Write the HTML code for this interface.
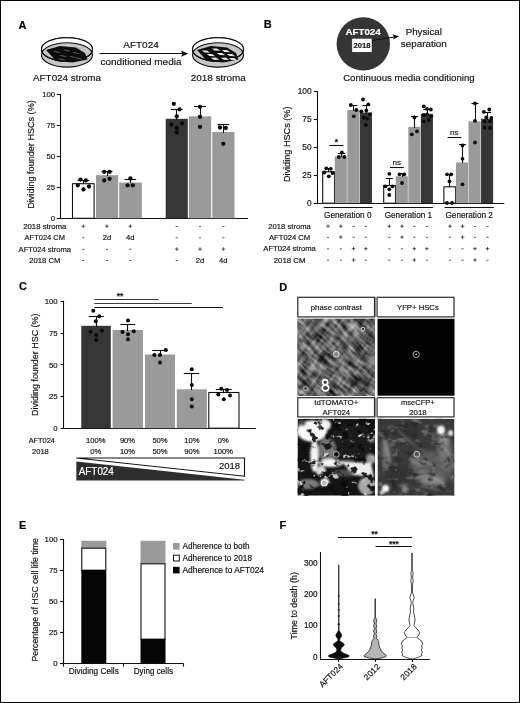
<!DOCTYPE html>
<html lang="en"><head><meta charset="utf-8"><title>Figure</title>
<style>
html,body{margin:0;padding:0;background:#fff;}
body{width:520px;height:703px;overflow:hidden;position:relative;}
.frame{position:absolute;left:0;top:0;width:520px;height:703px;box-sizing:border-box;border:1px solid #000;pointer-events:none;}
svg{position:absolute;left:0;top:0;display:block;font-family:'Liberation Sans', Arial, sans-serif;}
svg text{font-family:'Liberation Sans', Arial, sans-serif;stroke:#222;stroke-width:0.18px;paint-order:stroke;}
svg text[fill="#fff"]{stroke:#fff;}
</style></head><body>
<svg width="520" height="703" viewBox="0 0 520 703">
<text x="18.6" y="28.5" font-size="11" font-weight="bold" fill="#000">A</text>
<ellipse cx="67" cy="54.9" rx="25.5" ry="12.2" fill="#c6c6c6" stroke="#111" stroke-width="1.1"/>
<path d="M41.5,49.6 A25.5,11.6 0 0 0 92.5,49.6" fill="none" stroke="#111" stroke-width="1"/>
<ellipse cx="67" cy="49.4" rx="25.5" ry="11.8" fill="none" stroke="#111" stroke-width="1.1"/>
<path d="M41.5,49.4 A25.5,11.8 0 0 1 92.5,49.4 L91,49.4 A24,10 0 0 0 43,49.4Z" fill="#fff"/>
<ellipse cx="67" cy="49.4" rx="25.5" ry="11.8" fill="none" stroke="#111" stroke-width="1.1"/>
<polygon points="46.0,50.0 60.0,46.0 76.0,47.5 85.0,53.0 87.5,59.5 72.5,62.5 56.0,61.0" fill="#0d0d0d"/>
<ellipse cx="57" cy="52" rx="3.4" ry="0.45" fill="#666" transform="rotate(12 57 52)"/>
<ellipse cx="67" cy="50.5" rx="3.4" ry="0.45" fill="#666" transform="rotate(12 67 50.5)"/>
<ellipse cx="76" cy="53" rx="3.4" ry="0.45" fill="#666" transform="rotate(12 76 53)"/>
<ellipse cx="63" cy="56" rx="3.4" ry="0.45" fill="#666" transform="rotate(12 63 56)"/>
<ellipse cx="73" cy="57" rx="3.4" ry="0.45" fill="#666" transform="rotate(12 73 57)"/>
<ellipse cx="79" cy="58.5" rx="3.4" ry="0.45" fill="#666" transform="rotate(12 79 58.5)"/>
<ellipse cx="62" cy="59.5" rx="3.4" ry="0.45" fill="#666" transform="rotate(12 62 59.5)"/>
<ellipse cx="218" cy="54.9" rx="25.5" ry="12.2" fill="#c6c6c6" stroke="#111" stroke-width="1.1"/>
<path d="M192.5,49.6 A25.5,11.6 0 0 0 243.5,49.6" fill="none" stroke="#111" stroke-width="1"/>
<ellipse cx="218" cy="49.4" rx="25.5" ry="11.8" fill="none" stroke="#111" stroke-width="1.1"/>
<path d="M192.5,49.4 A25.5,11.8 0 0 1 243.5,49.4 L242,49.4 A24,10 0 0 0 194,49.4Z" fill="#fff"/>
<ellipse cx="218" cy="49.4" rx="25.5" ry="11.8" fill="none" stroke="#111" stroke-width="1.1"/>
<polygon points="197.0,50.0 211.0,46.0 227.0,47.5 236.0,53.0 238.5,59.5 223.5,62.5 207.0,61.0" fill="#0d0d0d"/>
<path d="M201.8,50.5 L207,50.4 L210.2,52.7 L204.5,52.5Z" fill="#e6e6e6"/>
<path d="M211.8,48.5 L217,48.4 L220.2,50.7 L214.5,50.5Z" fill="#e6e6e6"/>
<path d="M221.8,50.0 L227,49.9 L230.2,52.2 L224.5,52.0Z" fill="#e6e6e6"/>
<path d="M206.8,54.0 L212,53.9 L215.2,56.2 L209.5,56.0Z" fill="#e6e6e6"/>
<path d="M216.8,53.0 L222,52.9 L225.2,55.2 L219.5,55.0Z" fill="#e6e6e6"/>
<path d="M226.8,54.0 L232,53.9 L235.2,56.2 L229.5,56.0Z" fill="#e6e6e6"/>
<path d="M210.8,57.7 L216,57.6 L219.2,59.900000000000006 L213.5,59.7Z" fill="#e6e6e6"/>
<path d="M220.8,57.7 L226,57.6 L229.2,59.900000000000006 L223.5,59.7Z" fill="#e6e6e6"/>
<path d="M228.8,58.0 L234,57.9 L237.2,60.2 L231.5,60.0Z" fill="#e6e6e6"/>
<text x="67" y="80.6" font-size="9.7" text-anchor="middle" fill="#111" textLength="68" lengthAdjust="spacingAndGlyphs">AFT024 stroma</text>
<text x="218.2" y="80.6" font-size="9.7" text-anchor="middle" fill="#111" textLength="55" lengthAdjust="spacingAndGlyphs">2018 stroma</text>
<text x="141" y="47.6" font-size="9.7" text-anchor="middle" fill="#111" textLength="35.5" lengthAdjust="spacingAndGlyphs">AFT024</text>
<text x="141" y="64.6" font-size="9.7" text-anchor="middle" fill="#111" textLength="81" lengthAdjust="spacingAndGlyphs">conditioned media</text>
<line x1="99.5" y1="53.5" x2="183" y2="53.5" stroke="#111" stroke-width="1.1"/>
<polygon points="188.5,53.7 180.8,50.6 182.6,53.7 180.8,56.8" fill="#111"/>
<line x1="60.5" y1="94" x2="60.5" y2="218.8" stroke="#111" stroke-width="1.1"/>
<line x1="56.8" y1="218.5" x2="248" y2="218.5" stroke="#111" stroke-width="1.1"/>
<line x1="56.8" y1="94.5" x2="60" y2="94.5" stroke="#111" stroke-width="1.1"/>
<text x="55.2" y="97.3" font-size="7.8" text-anchor="end" fill="#111">100</text>
<line x1="56.8" y1="125.5" x2="60" y2="125.5" stroke="#111" stroke-width="1.1"/>
<text x="55.2" y="128.3" font-size="7.8" text-anchor="end" fill="#111">75</text>
<line x1="56.8" y1="156.5" x2="60" y2="156.5" stroke="#111" stroke-width="1.1"/>
<text x="55.2" y="159.3" font-size="7.8" text-anchor="end" fill="#111">50</text>
<line x1="56.8" y1="187.5" x2="60" y2="187.5" stroke="#111" stroke-width="1.1"/>
<text x="55.2" y="190.3" font-size="7.8" text-anchor="end" fill="#111">25</text>
<text x="55.2" y="221.10000000000002" font-size="7.8" text-anchor="end" fill="#111">0</text>
<text transform="translate(34.4,154.5) rotate(-90)" font-size="9.4" text-anchor="middle" fill="#111" textLength="108.5" lengthAdjust="spacingAndGlyphs">Dividing founder HSCs (%)</text>
<rect x="72.50" y="183.70" width="21.60" height="34.60" fill="#fff" stroke="#111" stroke-width="1.1"/>
<rect x="96.00" y="175.20" width="22.20" height="43.10" fill="#9a9a9a"/>
<rect x="119.20" y="182.50" width="22.60" height="35.80" fill="#9a9a9a"/>
<rect x="165.70" y="118.80" width="22.10" height="99.50" fill="#363636"/>
<rect x="188.90" y="116.30" width="22.30" height="102.00" fill="#9a9a9a"/>
<rect x="212.30" y="132.00" width="22.20" height="86.30" fill="#9a9a9a"/>
<line x1="83.5" y1="180.3" x2="83.5" y2="183.5" stroke="#111" stroke-width="1.1"/>
<line x1="77.60000000000001" y1="180.5" x2="89.2" y2="180.5" stroke="#111" stroke-width="1.1"/>
<line x1="107.5" y1="171.9" x2="107.5" y2="176" stroke="#111" stroke-width="1.1"/>
<line x1="101.5" y1="171.5" x2="112.5" y2="171.5" stroke="#111" stroke-width="1.1"/>
<line x1="130.5" y1="179.3" x2="130.5" y2="183" stroke="#111" stroke-width="1.1"/>
<line x1="124.7" y1="179.5" x2="136.1" y2="179.5" stroke="#111" stroke-width="1.1"/>
<line x1="176.5" y1="109.3" x2="176.5" y2="120" stroke="#111" stroke-width="1.1"/>
<line x1="170.7" y1="109.5" x2="182.7" y2="109.5" stroke="#111" stroke-width="1.1"/>
<line x1="200.5" y1="106.8" x2="200.5" y2="117" stroke="#111" stroke-width="1.1"/>
<line x1="194" y1="106.5" x2="206" y2="106.5" stroke="#111" stroke-width="1.1"/>
<line x1="223.5" y1="124" x2="223.5" y2="133" stroke="#111" stroke-width="1.1"/>
<line x1="217.5" y1="124.5" x2="229.10000000000002" y2="124.5" stroke="#111" stroke-width="1.1"/>
<circle cx="80.5" cy="179.6" r="2.15" fill="#0a0a0a"/>
<circle cx="85.9" cy="180.4" r="2.15" fill="#0a0a0a"/>
<circle cx="77.8" cy="185.3" r="2.15" fill="#0a0a0a"/>
<circle cx="89" cy="186.5" r="2.15" fill="#0a0a0a"/>
<circle cx="83.5" cy="189.4" r="2.15" fill="#0a0a0a"/>
<circle cx="104.2" cy="171.8" r="2.15" fill="#0a0a0a"/>
<circle cx="109.6" cy="171.8" r="2.15" fill="#0a0a0a"/>
<circle cx="104.2" cy="180.4" r="2.15" fill="#0a0a0a"/>
<circle cx="109.6" cy="178.8" r="2.15" fill="#0a0a0a"/>
<circle cx="130.4" cy="178.5" r="2.15" fill="#0a0a0a"/>
<circle cx="127.6" cy="185.3" r="2.15" fill="#0a0a0a"/>
<circle cx="132.8" cy="185.3" r="2.15" fill="#0a0a0a"/>
<circle cx="173.8" cy="103.8" r="2.15" fill="#0a0a0a"/>
<circle cx="179.5" cy="109.3" r="2.15" fill="#0a0a0a"/>
<circle cx="176.8" cy="116.3" r="2.15" fill="#0a0a0a"/>
<circle cx="171.3" cy="124.5" r="2.15" fill="#0a0a0a"/>
<circle cx="182" cy="123.3" r="2.15" fill="#0a0a0a"/>
<circle cx="176.8" cy="128" r="2.15" fill="#0a0a0a"/>
<circle cx="176.8" cy="132.5" r="2.15" fill="#0a0a0a"/>
<circle cx="200" cy="106.8" r="2.15" fill="#0a0a0a"/>
<circle cx="200" cy="116.8" r="2.15" fill="#0a0a0a"/>
<circle cx="200" cy="126.8" r="2.15" fill="#0a0a0a"/>
<circle cx="220" cy="127.5" r="2.15" fill="#0a0a0a"/>
<circle cx="225.8" cy="128" r="2.15" fill="#0a0a0a"/>
<circle cx="223.3" cy="143.8" r="2.15" fill="#0a0a0a"/>
<text x="44.8" y="228.8" font-size="7.6" text-anchor="middle" fill="#111" textLength="43.2" lengthAdjust="spacingAndGlyphs">2018 stroma</text>
<line x1="81.5" y1="226.20000000000002" x2="85.1" y2="226.20000000000002" stroke="#222" stroke-width="0.75"/>
<line x1="83.3" y1="224.4" x2="83.3" y2="228.0" stroke="#222" stroke-width="0.75"/>
<line x1="105.10000000000001" y1="226.20000000000002" x2="108.7" y2="226.20000000000002" stroke="#222" stroke-width="0.75"/>
<line x1="106.9" y1="224.4" x2="106.9" y2="228.0" stroke="#222" stroke-width="0.75"/>
<line x1="128.5" y1="226.20000000000002" x2="132.10000000000002" y2="226.20000000000002" stroke="#222" stroke-width="0.75"/>
<line x1="130.3" y1="224.4" x2="130.3" y2="228.0" stroke="#222" stroke-width="0.75"/>
<line x1="175.70000000000002" y1="226.4" x2="177.9" y2="226.4" stroke="#333" stroke-width="0.8"/>
<line x1="198.9" y1="226.4" x2="201.1" y2="226.4" stroke="#333" stroke-width="0.8"/>
<line x1="222.20000000000002" y1="226.4" x2="224.4" y2="226.4" stroke="#333" stroke-width="0.8"/>
<text x="44.8" y="240.2" font-size="7.6" text-anchor="middle" fill="#111" textLength="40.4" lengthAdjust="spacingAndGlyphs">AFT024 CM</text>
<line x1="82.2" y1="237.79999999999998" x2="84.39999999999999" y2="237.79999999999998" stroke="#333" stroke-width="0.8"/>
<text x="106.9" y="240.2" font-size="7.6" text-anchor="middle" fill="#111">2d</text>
<text x="130.3" y="240.2" font-size="7.6" text-anchor="middle" fill="#111">4d</text>
<line x1="175.70000000000002" y1="237.79999999999998" x2="177.9" y2="237.79999999999998" stroke="#333" stroke-width="0.8"/>
<line x1="198.9" y1="237.79999999999998" x2="201.1" y2="237.79999999999998" stroke="#333" stroke-width="0.8"/>
<line x1="222.20000000000002" y1="237.79999999999998" x2="224.4" y2="237.79999999999998" stroke="#333" stroke-width="0.8"/>
<text x="44.8" y="251.7" font-size="7.6" text-anchor="middle" fill="#111" textLength="52.5" lengthAdjust="spacingAndGlyphs">AFT024 stroma</text>
<line x1="82.2" y1="249.29999999999998" x2="84.39999999999999" y2="249.29999999999998" stroke="#333" stroke-width="0.8"/>
<line x1="105.80000000000001" y1="249.29999999999998" x2="108.0" y2="249.29999999999998" stroke="#333" stroke-width="0.8"/>
<line x1="129.20000000000002" y1="249.29999999999998" x2="131.4" y2="249.29999999999998" stroke="#333" stroke-width="0.8"/>
<line x1="175.0" y1="249.1" x2="178.60000000000002" y2="249.1" stroke="#222" stroke-width="0.75"/>
<line x1="176.8" y1="247.29999999999998" x2="176.8" y2="250.89999999999998" stroke="#222" stroke-width="0.75"/>
<line x1="198.2" y1="249.1" x2="201.8" y2="249.1" stroke="#222" stroke-width="0.75"/>
<line x1="200" y1="247.29999999999998" x2="200" y2="250.89999999999998" stroke="#222" stroke-width="0.75"/>
<line x1="221.5" y1="249.1" x2="225.10000000000002" y2="249.1" stroke="#222" stroke-width="0.75"/>
<line x1="223.3" y1="247.29999999999998" x2="223.3" y2="250.89999999999998" stroke="#222" stroke-width="0.75"/>
<text x="44.8" y="262.9" font-size="7.6" text-anchor="middle" fill="#111" textLength="31.2" lengthAdjust="spacingAndGlyphs">2018 CM</text>
<line x1="82.2" y1="260.5" x2="84.39999999999999" y2="260.5" stroke="#333" stroke-width="0.8"/>
<line x1="105.80000000000001" y1="260.5" x2="108.0" y2="260.5" stroke="#333" stroke-width="0.8"/>
<line x1="129.20000000000002" y1="260.5" x2="131.4" y2="260.5" stroke="#333" stroke-width="0.8"/>
<line x1="175.70000000000002" y1="260.5" x2="177.9" y2="260.5" stroke="#333" stroke-width="0.8"/>
<text x="200" y="262.9" font-size="7.6" text-anchor="middle" fill="#111">2d</text>
<text x="223.3" y="262.9" font-size="7.6" text-anchor="middle" fill="#111">4d</text>
<text x="263.8" y="28.3" font-size="11" font-weight="bold" fill="#000">B</text>
<circle cx="363.3" cy="43.9" r="26.7" fill="#353535"/>
<text x="363.1" y="35.1" font-size="9.5" text-anchor="middle" font-weight="bold" fill="#fff" textLength="35.3" lengthAdjust="spacingAndGlyphs">AFT024</text>
<rect x="351.90" y="38.30" width="20.10" height="13.90" fill="#fff" stroke="#222" stroke-width="0.5"/>
<text x="362.1" y="48.4" font-size="7.9" text-anchor="middle" font-weight="bold" fill="#111" textLength="17" lengthAdjust="spacingAndGlyphs">2018</text>
<line x1="372" y1="40.4" x2="394.5" y2="37" stroke="#111" stroke-width="1.1"/>
<polygon points="399.3,36.3 392.4,34.6 394,37.1 393.1,39.6" fill="#111"/>
<text x="423.8" y="35" font-size="9.7" text-anchor="middle" fill="#111" textLength="36.3" lengthAdjust="spacingAndGlyphs">Physical</text>
<text x="423.8" y="47" font-size="9.7" text-anchor="middle" fill="#111" textLength="46" lengthAdjust="spacingAndGlyphs">separation</text>
<text x="408.9" y="81" font-size="9.6" text-anchor="middle" fill="#111" textLength="131.5" lengthAdjust="spacingAndGlyphs">Continuous media conditioning</text>
<line x1="317.5" y1="91" x2="317.5" y2="203.7" stroke="#111" stroke-width="1.1"/>
<line x1="313.8" y1="203.5" x2="504.3" y2="203.5" stroke="#111" stroke-width="1.1"/>
<line x1="313.8" y1="91.5" x2="317" y2="91.5" stroke="#111" stroke-width="1.1"/>
<text x="311.5" y="94.3" font-size="8.3" text-anchor="end" fill="#111">100</text>
<line x1="313.8" y1="119.5" x2="317" y2="119.5" stroke="#111" stroke-width="1.1"/>
<text x="311.5" y="122.3" font-size="8.3" text-anchor="end" fill="#111">75</text>
<line x1="313.8" y1="147.5" x2="317" y2="147.5" stroke="#111" stroke-width="1.1"/>
<text x="311.5" y="150.2" font-size="8.3" text-anchor="end" fill="#111">50</text>
<line x1="313.8" y1="175.5" x2="317" y2="175.5" stroke="#111" stroke-width="1.1"/>
<text x="311.5" y="178.2" font-size="8.3" text-anchor="end" fill="#111">25</text>
<text x="311.5" y="206.2" font-size="8.3" text-anchor="end" fill="#111">0</text>
<text transform="translate(290.2,144.3) rotate(-90)" font-size="9.6" text-anchor="middle" fill="#111" textLength="75.6" lengthAdjust="spacingAndGlyphs">Dividing HSCs (%)</text>
<rect x="322.70" y="171.80" width="11.80" height="31.40" fill="#fff" stroke="#111" stroke-width="1.1"/>
<rect x="334.75" y="156.30" width="12.10" height="46.90" fill="#9a9a9a"/>
<rect x="347.30" y="110.00" width="12.10" height="93.20" fill="#9a9a9a"/>
<rect x="359.85" y="112.50" width="12.10" height="90.70" fill="#363636"/>
<rect x="383.70" y="185.50" width="11.80" height="17.70" fill="#fff" stroke="#111" stroke-width="1.1"/>
<rect x="395.75" y="176.30" width="12.10" height="26.90" fill="#9a9a9a"/>
<rect x="408.30" y="126.80" width="12.10" height="76.40" fill="#9a9a9a"/>
<rect x="420.85" y="113.80" width="12.10" height="89.40" fill="#363636"/>
<rect x="443.90" y="186.80" width="11.80" height="16.40" fill="#fff" stroke="#111" stroke-width="1.1"/>
<rect x="455.95" y="162.50" width="12.10" height="40.70" fill="#9a9a9a"/>
<rect x="468.50" y="121.30" width="12.10" height="81.90" fill="#9a9a9a"/>
<rect x="481.05" y="118.80" width="12.10" height="84.40" fill="#363636"/>
<line x1="328.5" y1="168" x2="328.5" y2="172" stroke="#111" stroke-width="1.1"/>
<line x1="324.9" y1="168.5" x2="332.1" y2="168.5" stroke="#111" stroke-width="1.1"/>
<line x1="341.5" y1="153.8" x2="341.5" y2="157" stroke="#111" stroke-width="1.1"/>
<line x1="337.9" y1="153.5" x2="345.1" y2="153.5" stroke="#111" stroke-width="1.1"/>
<line x1="353.5" y1="105" x2="353.5" y2="111" stroke="#111" stroke-width="1.1"/>
<line x1="350.2" y1="105.5" x2="357.40000000000003" y2="105.5" stroke="#111" stroke-width="1.1"/>
<line x1="366.5" y1="105" x2="366.5" y2="113.5" stroke="#111" stroke-width="1.1"/>
<line x1="362.4" y1="105.5" x2="369.6" y2="105.5" stroke="#111" stroke-width="1.1"/>
<line x1="389.5" y1="178" x2="389.5" y2="186" stroke="#111" stroke-width="1.1"/>
<line x1="385.7" y1="178.5" x2="392.90000000000003" y2="178.5" stroke="#111" stroke-width="1.1"/>
<line x1="402.5" y1="173" x2="402.5" y2="177" stroke="#111" stroke-width="1.1"/>
<line x1="398.4" y1="173.5" x2="405.6" y2="173.5" stroke="#111" stroke-width="1.1"/>
<line x1="414.5" y1="116.8" x2="414.5" y2="128" stroke="#111" stroke-width="1.1"/>
<line x1="410.9" y1="116.5" x2="418.1" y2="116.5" stroke="#111" stroke-width="1.1"/>
<line x1="427.5" y1="109.5" x2="427.5" y2="115" stroke="#111" stroke-width="1.1"/>
<line x1="423.4" y1="109.5" x2="430.6" y2="109.5" stroke="#111" stroke-width="1.1"/>
<line x1="449.5" y1="174.5" x2="449.5" y2="187" stroke="#111" stroke-width="1.1"/>
<line x1="445.9" y1="174.5" x2="453.1" y2="174.5" stroke="#111" stroke-width="1.1"/>
<line x1="462.5" y1="144.3" x2="462.5" y2="163" stroke="#111" stroke-width="1.1"/>
<line x1="458.9" y1="144.5" x2="466.1" y2="144.5" stroke="#111" stroke-width="1.1"/>
<line x1="475.5" y1="103" x2="475.5" y2="122" stroke="#111" stroke-width="1.1"/>
<line x1="471.4" y1="103.5" x2="478.6" y2="103.5" stroke="#111" stroke-width="1.1"/>
<line x1="487.5" y1="112.5" x2="487.5" y2="120" stroke="#111" stroke-width="1.1"/>
<line x1="483.9" y1="112.5" x2="491.1" y2="112.5" stroke="#111" stroke-width="1.1"/>
<circle cx="326.3" cy="168.3" r="1.9" fill="#0a0a0a"/>
<circle cx="330.8" cy="168.8" r="1.9" fill="#0a0a0a"/>
<circle cx="324.3" cy="172.5" r="1.9" fill="#0a0a0a"/>
<circle cx="328.8" cy="176.3" r="1.9" fill="#0a0a0a"/>
<circle cx="332.5" cy="173" r="1.9" fill="#0a0a0a"/>
<circle cx="341.8" cy="152.5" r="1.9" fill="#0a0a0a"/>
<circle cx="338.8" cy="157" r="1.9" fill="#0a0a0a"/>
<circle cx="344.3" cy="157" r="1.9" fill="#0a0a0a"/>
<circle cx="350.8" cy="105" r="1.9" fill="#0a0a0a"/>
<circle cx="356.3" cy="110" r="1.9" fill="#0a0a0a"/>
<circle cx="353.8" cy="116.3" r="1.9" fill="#0a0a0a"/>
<circle cx="363" cy="99.5" r="1.9" fill="#0a0a0a"/>
<circle cx="368.3" cy="104.3" r="1.9" fill="#0a0a0a"/>
<circle cx="361.3" cy="111.3" r="1.9" fill="#0a0a0a"/>
<circle cx="366.3" cy="110.5" r="1.9" fill="#0a0a0a"/>
<circle cx="370" cy="114.3" r="1.9" fill="#0a0a0a"/>
<circle cx="363.8" cy="117.5" r="1.9" fill="#0a0a0a"/>
<circle cx="367.5" cy="118.8" r="1.9" fill="#0a0a0a"/>
<circle cx="365.8" cy="125" r="1.9" fill="#0a0a0a"/>
<circle cx="389.3" cy="173.8" r="1.9" fill="#0a0a0a"/>
<circle cx="385.5" cy="186.3" r="1.9" fill="#0a0a0a"/>
<circle cx="392.5" cy="186.3" r="1.9" fill="#0a0a0a"/>
<circle cx="389.3" cy="189.3" r="1.9" fill="#0a0a0a"/>
<circle cx="389.3" cy="195" r="1.9" fill="#0a0a0a"/>
<circle cx="399.5" cy="174.3" r="1.9" fill="#0a0a0a"/>
<circle cx="404.3" cy="174.3" r="1.9" fill="#0a0a0a"/>
<circle cx="402" cy="183" r="1.9" fill="#0a0a0a"/>
<circle cx="411.8" cy="134.3" r="1.9" fill="#0a0a0a"/>
<circle cx="417" cy="131.3" r="1.9" fill="#0a0a0a"/>
<circle cx="414.5" cy="117.5" r="1.9" fill="#0a0a0a"/>
<circle cx="423.8" cy="106.3" r="1.9" fill="#0a0a0a"/>
<circle cx="427" cy="108.8" r="1.9" fill="#0a0a0a"/>
<circle cx="430.8" cy="109.5" r="1.9" fill="#0a0a0a"/>
<circle cx="423.8" cy="115" r="1.9" fill="#0a0a0a"/>
<circle cx="427" cy="114.5" r="1.9" fill="#0a0a0a"/>
<circle cx="431.3" cy="116.3" r="1.9" fill="#0a0a0a"/>
<circle cx="423.8" cy="121.3" r="1.9" fill="#0a0a0a"/>
<circle cx="428.8" cy="120" r="1.9" fill="#0a0a0a"/>
<circle cx="447" cy="174.3" r="1.9" fill="#0a0a0a"/>
<circle cx="451.3" cy="174.3" r="1.9" fill="#0a0a0a"/>
<circle cx="449.5" cy="181.3" r="1.9" fill="#0a0a0a"/>
<circle cx="447" cy="203" r="1.9" fill="#0a0a0a"/>
<circle cx="452" cy="203" r="1.9" fill="#0a0a0a"/>
<circle cx="462.5" cy="145.5" r="1.9" fill="#0a0a0a"/>
<circle cx="462.5" cy="158.8" r="1.9" fill="#0a0a0a"/>
<circle cx="462.5" cy="184.3" r="1.9" fill="#0a0a0a"/>
<circle cx="475" cy="103.3" r="1.9" fill="#0a0a0a"/>
<circle cx="475" cy="120.8" r="1.9" fill="#0a0a0a"/>
<circle cx="475" cy="142.5" r="1.9" fill="#0a0a0a"/>
<circle cx="483.8" cy="111.8" r="1.9" fill="#0a0a0a"/>
<circle cx="489.3" cy="109.5" r="1.9" fill="#0a0a0a"/>
<circle cx="486.3" cy="117.5" r="1.9" fill="#0a0a0a"/>
<circle cx="491.3" cy="118" r="1.9" fill="#0a0a0a"/>
<circle cx="484.5" cy="121.3" r="1.9" fill="#0a0a0a"/>
<circle cx="490" cy="121.3" r="1.9" fill="#0a0a0a"/>
<circle cx="484.5" cy="127.5" r="1.9" fill="#0a0a0a"/>
<circle cx="490" cy="128" r="1.9" fill="#0a0a0a"/>
<text x="336.3" y="144.6" font-size="8.4" text-anchor="middle" font-weight="bold" fill="#111">*</text>
<line x1="329.3" y1="145.5" x2="343.3" y2="145.5" stroke="#111" stroke-width="1.1"/>
<text x="396.8" y="165" font-size="8" text-anchor="middle" fill="#111">ns</text>
<line x1="390" y1="167.5" x2="403.8" y2="167.5" stroke="#111" stroke-width="1.1"/>
<text x="454.3" y="134.6" font-size="8" text-anchor="middle" fill="#111">ns</text>
<line x1="447.5" y1="137.5" x2="461.3" y2="137.5" stroke="#111" stroke-width="1.1"/>
<line x1="323.8" y1="207.5" x2="372.5" y2="207.5" stroke="#111" stroke-width="1.1"/>
<text x="347.8" y="218.2" font-size="8.4" text-anchor="middle" fill="#111" textLength="47.5" lengthAdjust="spacingAndGlyphs">Generation 0</text>
<line x1="383.8" y1="207.5" x2="433" y2="207.5" stroke="#111" stroke-width="1.1"/>
<text x="408.4" y="218.2" font-size="8.4" text-anchor="middle" fill="#111" textLength="47.5" lengthAdjust="spacingAndGlyphs">Generation 1</text>
<line x1="444.5" y1="207.5" x2="493.8" y2="207.5" stroke="#111" stroke-width="1.1"/>
<text x="469.2" y="218.2" font-size="8.4" text-anchor="middle" fill="#111" textLength="47.5" lengthAdjust="spacingAndGlyphs">Generation 2</text>
<text x="289.6" y="228.8" font-size="7.6" text-anchor="middle" fill="#111" textLength="42.5" lengthAdjust="spacingAndGlyphs">2018 stroma</text>
<line x1="326.2" y1="226.20000000000002" x2="329.8" y2="226.20000000000002" stroke="#222" stroke-width="0.75"/>
<line x1="328" y1="224.4" x2="328" y2="228.0" stroke="#222" stroke-width="0.75"/>
<line x1="339.0" y1="226.20000000000002" x2="342.6" y2="226.20000000000002" stroke="#222" stroke-width="0.75"/>
<line x1="340.8" y1="224.4" x2="340.8" y2="228.0" stroke="#222" stroke-width="0.75"/>
<line x1="352.5" y1="226.4" x2="354.70000000000005" y2="226.4" stroke="#333" stroke-width="0.8"/>
<line x1="364.7" y1="226.4" x2="366.90000000000003" y2="226.4" stroke="#333" stroke-width="0.8"/>
<line x1="387.5" y1="226.20000000000002" x2="391.1" y2="226.20000000000002" stroke="#222" stroke-width="0.75"/>
<line x1="389.3" y1="224.4" x2="389.3" y2="228.0" stroke="#222" stroke-width="0.75"/>
<line x1="400.2" y1="226.20000000000002" x2="403.8" y2="226.20000000000002" stroke="#222" stroke-width="0.75"/>
<line x1="402" y1="224.4" x2="402" y2="228.0" stroke="#222" stroke-width="0.75"/>
<line x1="413.2" y1="226.4" x2="415.40000000000003" y2="226.4" stroke="#333" stroke-width="0.8"/>
<line x1="425.7" y1="226.4" x2="427.90000000000003" y2="226.4" stroke="#333" stroke-width="0.8"/>
<line x1="448.2" y1="226.20000000000002" x2="451.8" y2="226.20000000000002" stroke="#222" stroke-width="0.75"/>
<line x1="450" y1="224.4" x2="450" y2="228.0" stroke="#222" stroke-width="0.75"/>
<line x1="460.7" y1="226.20000000000002" x2="464.3" y2="226.20000000000002" stroke="#222" stroke-width="0.75"/>
<line x1="462.5" y1="224.4" x2="462.5" y2="228.0" stroke="#222" stroke-width="0.75"/>
<line x1="473.9" y1="226.4" x2="476.1" y2="226.4" stroke="#333" stroke-width="0.8"/>
<line x1="486.4" y1="226.4" x2="488.6" y2="226.4" stroke="#333" stroke-width="0.8"/>
<text x="289.6" y="239.7" font-size="7.6" text-anchor="middle" fill="#111" textLength="41.3" lengthAdjust="spacingAndGlyphs">AFT024 CM</text>
<line x1="326.9" y1="237.29999999999998" x2="329.1" y2="237.29999999999998" stroke="#333" stroke-width="0.8"/>
<line x1="339.0" y1="237.1" x2="342.6" y2="237.1" stroke="#222" stroke-width="0.75"/>
<line x1="340.8" y1="235.29999999999998" x2="340.8" y2="238.89999999999998" stroke="#222" stroke-width="0.75"/>
<line x1="352.5" y1="237.29999999999998" x2="354.70000000000005" y2="237.29999999999998" stroke="#333" stroke-width="0.8"/>
<line x1="364.7" y1="237.29999999999998" x2="366.90000000000003" y2="237.29999999999998" stroke="#333" stroke-width="0.8"/>
<line x1="388.2" y1="237.29999999999998" x2="390.40000000000003" y2="237.29999999999998" stroke="#333" stroke-width="0.8"/>
<line x1="400.2" y1="237.1" x2="403.8" y2="237.1" stroke="#222" stroke-width="0.75"/>
<line x1="402" y1="235.29999999999998" x2="402" y2="238.89999999999998" stroke="#222" stroke-width="0.75"/>
<line x1="413.2" y1="237.29999999999998" x2="415.40000000000003" y2="237.29999999999998" stroke="#333" stroke-width="0.8"/>
<line x1="425.7" y1="237.29999999999998" x2="427.90000000000003" y2="237.29999999999998" stroke="#333" stroke-width="0.8"/>
<line x1="448.9" y1="237.29999999999998" x2="451.1" y2="237.29999999999998" stroke="#333" stroke-width="0.8"/>
<line x1="460.7" y1="237.1" x2="464.3" y2="237.1" stroke="#222" stroke-width="0.75"/>
<line x1="462.5" y1="235.29999999999998" x2="462.5" y2="238.89999999999998" stroke="#222" stroke-width="0.75"/>
<line x1="473.9" y1="237.29999999999998" x2="476.1" y2="237.29999999999998" stroke="#333" stroke-width="0.8"/>
<line x1="486.4" y1="237.29999999999998" x2="488.6" y2="237.29999999999998" stroke="#333" stroke-width="0.8"/>
<text x="289.6" y="251.3" font-size="7.6" text-anchor="middle" fill="#111" textLength="52.5" lengthAdjust="spacingAndGlyphs">AFT024 stroma</text>
<line x1="326.9" y1="248.9" x2="329.1" y2="248.9" stroke="#333" stroke-width="0.8"/>
<line x1="339.7" y1="248.9" x2="341.90000000000003" y2="248.9" stroke="#333" stroke-width="0.8"/>
<line x1="351.8" y1="248.70000000000002" x2="355.40000000000003" y2="248.70000000000002" stroke="#222" stroke-width="0.75"/>
<line x1="353.6" y1="246.9" x2="353.6" y2="250.5" stroke="#222" stroke-width="0.75"/>
<line x1="364.0" y1="248.70000000000002" x2="367.6" y2="248.70000000000002" stroke="#222" stroke-width="0.75"/>
<line x1="365.8" y1="246.9" x2="365.8" y2="250.5" stroke="#222" stroke-width="0.75"/>
<line x1="388.2" y1="248.9" x2="390.40000000000003" y2="248.9" stroke="#333" stroke-width="0.8"/>
<line x1="400.9" y1="248.9" x2="403.1" y2="248.9" stroke="#333" stroke-width="0.8"/>
<line x1="412.5" y1="248.70000000000002" x2="416.1" y2="248.70000000000002" stroke="#222" stroke-width="0.75"/>
<line x1="414.3" y1="246.9" x2="414.3" y2="250.5" stroke="#222" stroke-width="0.75"/>
<line x1="425.0" y1="248.70000000000002" x2="428.6" y2="248.70000000000002" stroke="#222" stroke-width="0.75"/>
<line x1="426.8" y1="246.9" x2="426.8" y2="250.5" stroke="#222" stroke-width="0.75"/>
<line x1="448.9" y1="248.9" x2="451.1" y2="248.9" stroke="#333" stroke-width="0.8"/>
<line x1="461.4" y1="248.9" x2="463.6" y2="248.9" stroke="#333" stroke-width="0.8"/>
<line x1="473.2" y1="248.70000000000002" x2="476.8" y2="248.70000000000002" stroke="#222" stroke-width="0.75"/>
<line x1="475" y1="246.9" x2="475" y2="250.5" stroke="#222" stroke-width="0.75"/>
<line x1="485.7" y1="248.70000000000002" x2="489.3" y2="248.70000000000002" stroke="#222" stroke-width="0.75"/>
<line x1="487.5" y1="246.9" x2="487.5" y2="250.5" stroke="#222" stroke-width="0.75"/>
<text x="289.6" y="262.6" font-size="7.6" text-anchor="middle" fill="#111" textLength="31.8" lengthAdjust="spacingAndGlyphs">2018 CM</text>
<line x1="326.9" y1="260.20000000000005" x2="329.1" y2="260.20000000000005" stroke="#333" stroke-width="0.8"/>
<line x1="339.7" y1="260.20000000000005" x2="341.90000000000003" y2="260.20000000000005" stroke="#333" stroke-width="0.8"/>
<line x1="351.8" y1="260.0" x2="355.40000000000003" y2="260.0" stroke="#222" stroke-width="0.75"/>
<line x1="353.6" y1="258.20000000000005" x2="353.6" y2="261.8" stroke="#222" stroke-width="0.75"/>
<line x1="364.7" y1="260.20000000000005" x2="366.90000000000003" y2="260.20000000000005" stroke="#333" stroke-width="0.8"/>
<line x1="388.2" y1="260.20000000000005" x2="390.40000000000003" y2="260.20000000000005" stroke="#333" stroke-width="0.8"/>
<line x1="400.9" y1="260.20000000000005" x2="403.1" y2="260.20000000000005" stroke="#333" stroke-width="0.8"/>
<line x1="412.5" y1="260.0" x2="416.1" y2="260.0" stroke="#222" stroke-width="0.75"/>
<line x1="414.3" y1="258.20000000000005" x2="414.3" y2="261.8" stroke="#222" stroke-width="0.75"/>
<line x1="425.7" y1="260.20000000000005" x2="427.90000000000003" y2="260.20000000000005" stroke="#333" stroke-width="0.8"/>
<line x1="448.9" y1="260.20000000000005" x2="451.1" y2="260.20000000000005" stroke="#333" stroke-width="0.8"/>
<line x1="461.4" y1="260.20000000000005" x2="463.6" y2="260.20000000000005" stroke="#333" stroke-width="0.8"/>
<line x1="473.2" y1="260.0" x2="476.8" y2="260.0" stroke="#222" stroke-width="0.75"/>
<line x1="475" y1="258.20000000000005" x2="475" y2="261.8" stroke="#222" stroke-width="0.75"/>
<line x1="486.4" y1="260.20000000000005" x2="488.6" y2="260.20000000000005" stroke="#333" stroke-width="0.8"/>
<text x="18.9" y="290.3" font-size="11" font-weight="bold" fill="#000">C</text>
<line x1="63.5" y1="300.8" x2="63.5" y2="428.7" stroke="#111" stroke-width="1.1"/>
<line x1="60.5" y1="428.5" x2="255.8" y2="428.5" stroke="#111" stroke-width="1.1"/>
<line x1="60.5" y1="301.5" x2="63.8" y2="301.5" stroke="#111" stroke-width="1.1"/>
<text x="57.7" y="304.2" font-size="7.8" text-anchor="end" fill="#111">100</text>
<line x1="60.5" y1="333.5" x2="63.8" y2="333.5" stroke="#111" stroke-width="1.1"/>
<text x="57.7" y="335.9" font-size="7.8" text-anchor="end" fill="#111">75</text>
<line x1="60.5" y1="364.5" x2="63.8" y2="364.5" stroke="#111" stroke-width="1.1"/>
<text x="57.7" y="367.59999999999997" font-size="7.8" text-anchor="end" fill="#111">50</text>
<line x1="60.5" y1="396.5" x2="63.8" y2="396.5" stroke="#111" stroke-width="1.1"/>
<text x="57.7" y="399.4" font-size="7.8" text-anchor="end" fill="#111">25</text>
<text x="57.7" y="431.09999999999997" font-size="7.8" text-anchor="end" fill="#111">0</text>
<text transform="translate(37.6,364.7) rotate(-90)" font-size="9.3" text-anchor="middle" fill="#111" textLength="102.4" lengthAdjust="spacingAndGlyphs">Dividing founder HSC (%)</text>
<rect x="81.30" y="325.80" width="29.50" height="102.40" fill="#363636"/>
<rect x="112.60" y="330.00" width="30.40" height="98.20" fill="#9a9a9a"/>
<rect x="145.00" y="354.50" width="30.00" height="73.70" fill="#9a9a9a"/>
<rect x="176.80" y="389.30" width="30.00" height="38.90" fill="#9a9a9a"/>
<rect x="208.80" y="392.50" width="30.20" height="35.70" fill="#fff" stroke="#111" stroke-width="1.1"/>
<line x1="96.5" y1="316.3" x2="96.5" y2="327" stroke="#111" stroke-width="1.1"/>
<line x1="88.8" y1="316.5" x2="103.8" y2="316.5" stroke="#111" stroke-width="1.1"/>
<line x1="127.5" y1="324.3" x2="127.5" y2="331" stroke="#111" stroke-width="1.1"/>
<line x1="120.3" y1="324.5" x2="135.3" y2="324.5" stroke="#111" stroke-width="1.1"/>
<line x1="160.5" y1="350" x2="160.5" y2="355.5" stroke="#111" stroke-width="1.1"/>
<line x1="152.3" y1="350.5" x2="167.7" y2="350.5" stroke="#111" stroke-width="1.1"/>
<line x1="191.5" y1="373.3" x2="191.5" y2="390" stroke="#111" stroke-width="1.1"/>
<line x1="183.79999999999998" y1="373.5" x2="199.4" y2="373.5" stroke="#111" stroke-width="1.1"/>
<line x1="223.5" y1="389.3" x2="223.5" y2="393" stroke="#111" stroke-width="1.1"/>
<line x1="215.8" y1="389.5" x2="231.8" y2="389.5" stroke="#111" stroke-width="1.1"/>
<circle cx="93.3" cy="310.8" r="2" fill="#0a0a0a"/>
<circle cx="99.3" cy="316.3" r="2" fill="#0a0a0a"/>
<circle cx="95.8" cy="321.3" r="2" fill="#0a0a0a"/>
<circle cx="90.5" cy="331.8" r="2" fill="#0a0a0a"/>
<circle cx="102" cy="330.5" r="2" fill="#0a0a0a"/>
<circle cx="96.3" cy="335" r="2" fill="#0a0a0a"/>
<circle cx="96.3" cy="340" r="2" fill="#0a0a0a"/>
<circle cx="128" cy="320.5" r="2" fill="#0a0a0a"/>
<circle cx="122.5" cy="332" r="2" fill="#0a0a0a"/>
<circle cx="128" cy="334.3" r="2" fill="#0a0a0a"/>
<circle cx="133.8" cy="331.3" r="2" fill="#0a0a0a"/>
<circle cx="128" cy="339.3" r="2" fill="#0a0a0a"/>
<circle cx="165.8" cy="350" r="2" fill="#0a0a0a"/>
<circle cx="154.3" cy="355" r="2" fill="#0a0a0a"/>
<circle cx="160" cy="355" r="2" fill="#0a0a0a"/>
<circle cx="160" cy="362.5" r="2" fill="#0a0a0a"/>
<circle cx="191.8" cy="369.3" r="2" fill="#0a0a0a"/>
<circle cx="191.8" cy="385" r="2" fill="#0a0a0a"/>
<circle cx="191.8" cy="399.3" r="2" fill="#0a0a0a"/>
<circle cx="191.8" cy="406.5" r="2" fill="#0a0a0a"/>
<circle cx="221.3" cy="388.8" r="2" fill="#0a0a0a"/>
<circle cx="227" cy="390" r="2" fill="#0a0a0a"/>
<circle cx="218.3" cy="394.5" r="2" fill="#0a0a0a"/>
<circle cx="230" cy="395.5" r="2" fill="#0a0a0a"/>
<circle cx="223.8" cy="399.3" r="2" fill="#0a0a0a"/>
<line x1="94.3" y1="299.5" x2="158.8" y2="299.5" stroke="#3a3a3a" stroke-width="1.1"/>
<line x1="94.3" y1="303.5" x2="191.8" y2="303.5" stroke="#3a3a3a" stroke-width="1.1"/>
<line x1="94.3" y1="307.5" x2="223" y2="307.5" stroke="#111" stroke-width="1.1"/>
<text x="120" y="299.2" font-size="8.4" text-anchor="middle" font-weight="bold" fill="#111">**</text>
<text x="41.8" y="442.5" font-size="7.6" text-anchor="middle" fill="#111" textLength="26.3" lengthAdjust="spacingAndGlyphs">AFT024</text>
<text x="40.4" y="454.4" font-size="7.6" text-anchor="middle" fill="#111" textLength="16.8" lengthAdjust="spacingAndGlyphs">2018</text>
<text x="95.8" y="442.5" font-size="7.6" text-anchor="middle" fill="#111">100%</text>
<text x="95.8" y="454.4" font-size="7.6" text-anchor="middle" fill="#111">0%</text>
<text x="127.5" y="442.5" font-size="7.6" text-anchor="middle" fill="#111">90%</text>
<text x="127.5" y="454.4" font-size="7.6" text-anchor="middle" fill="#111">10%</text>
<text x="160" y="442.5" font-size="7.6" text-anchor="middle" fill="#111">50%</text>
<text x="160" y="454.4" font-size="7.6" text-anchor="middle" fill="#111">50%</text>
<text x="191.8" y="442.5" font-size="7.6" text-anchor="middle" fill="#111">10%</text>
<text x="191.8" y="454.4" font-size="7.6" text-anchor="middle" fill="#111">90%</text>
<text x="223.3" y="442.5" font-size="7.6" text-anchor="middle" fill="#111">0%</text>
<text x="223.3" y="454.4" font-size="7.6" text-anchor="middle" fill="#111">100%</text>
<polygon points="76.3,458 244.5,458 244.5,476.2" fill="#fff" stroke="#111" stroke-width="1.1" stroke-linejoin="miter"/>
<polygon points="76.3,461.6 244.5,479.8 244.5,480.4 76.3,480.4" fill="#2e2e2e"/>
<text x="78.8" y="475.4" font-size="10" fill="#fff" textLength="35" lengthAdjust="spacingAndGlyphs">AFT024</text>
<text x="240.2" y="468.6" font-size="9.6" text-anchor="end" fill="#111" textLength="21.3" lengthAdjust="spacingAndGlyphs">2018</text>
<text x="279.2" y="290.6" font-size="11" font-weight="bold" fill="#000">D</text>
<defs>
<filter id="fphase" x="0" y="0" width="100%" height="100%" color-interpolation-filters="sRGB">
 <feTurbulence type="fractalNoise" baseFrequency="0.05 0.26" numOctaves="4" seed="7" result="n"/>
 <feColorMatrix in="n" type="matrix" values="1.45 0 0 0 -0.335  1.45 0 0 0 -0.335  1.45 0 0 0 -0.335  0 0 0 0 1"/>
</filter>
<filter id="fphase2" x="0" y="0" width="100%" height="100%" color-interpolation-filters="sRGB">
 <feTurbulence type="fractalNoise" baseFrequency="0.05 0.2" numOctaves="4" seed="23" result="n"/>
 <feColorMatrix in="n" type="matrix" values="0 1.45 0 0 -0.335  0 1.45 0 0 -0.335  0 1.45 0 0 -0.335  0 0 0 0 1"/>
</filter>
<filter id="fcfp" x="0" y="0" width="100%" height="100%" color-interpolation-filters="sRGB">
 <feTurbulence type="fractalNoise" baseFrequency="0.1 0.16" numOctaves="4" seed="4" result="n"/>
 <feColorMatrix in="n" type="matrix" values="0 0 0 0 0  0 0 0 0 0  0 0 0 0 0  5 0 0 0 -2.75" result="a"/>
 <feFlood flood-color="#7c7c7c"/><feComposite in2="a" operator="in"/>
</filter>
<filter id="fcfp2" x="0" y="0" width="100%" height="100%" color-interpolation-filters="sRGB">
 <feTurbulence type="fractalNoise" baseFrequency="0.11 0.14" numOctaves="3" seed="31" result="n"/>
 <feColorMatrix in="n" type="matrix" values="0 0 0 0 0  0 0 0 0 0  0 0 0 0 0  0 -5 0 0 2.3" result="a"/>
 <feFlood flood-color="#262626"/><feComposite in2="a" operator="in"/>
</filter>
<filter id="ftom" x="0" y="0" width="100%" height="100%" color-interpolation-filters="sRGB">
 <feTurbulence type="fractalNoise" baseFrequency="0.13 0.15" numOctaves="3" seed="11" result="n"/>
 <feColorMatrix in="n" type="matrix" values="0 0 0 0 0  0 0 0 0 0  0 0 0 0 0  8 0 0 0 -5.3" result="a"/>
 <feFlood flood-color="#f2f2f2"/><feComposite in2="a" operator="in"/>
</filter>
<filter id="ftom2" x="0" y="0" width="100%" height="100%" color-interpolation-filters="sRGB">
 <feTurbulence type="fractalNoise" baseFrequency="0.12 0.14" numOctaves="3" seed="5" result="n"/>
 <feColorMatrix in="n" type="matrix" values="0 0 0 0 0  0 0 0 0 0  0 0 0 0 0  0 -8 0 0 3.45" result="a"/>
 <feFlood flood-color="#0c0c0c"/><feComposite in2="a" operator="in"/>
</filter>
<filter id="b0"><feGaussianBlur stdDeviation="0.85"/></filter>
<filter id="b1"><feGaussianBlur stdDeviation="1.1"/></filter>
<filter id="b2"><feGaussianBlur stdDeviation="2.2"/></filter>
<clipPath id="c1"><rect x="297.5" y="318.8" width="77.5" height="77.2"/></clipPath>
<clipPath id="c3"><rect x="297.5" y="418.8" width="77.5" height="76.9"/></clipPath>
<clipPath id="c4"><rect x="377.5" y="418.8" width="77" height="76.9"/></clipPath>
</defs>
<rect x="297.80" y="297.30" width="76.70" height="19.60" fill="#fff" stroke="#2a2a2a" stroke-width="1.2"/>
<rect x="377.20" y="297.30" width="76.80" height="19.60" fill="#fff" stroke="#2a2a2a" stroke-width="1.2"/>
<rect x="297.80" y="397.70" width="76.70" height="19.20" fill="#fff" stroke="#2a2a2a" stroke-width="1.2"/>
<rect x="377.20" y="397.70" width="76.80" height="19.20" fill="#fff" stroke="#2a2a2a" stroke-width="1.2"/>
<rect x="375.00" y="297.20" width="2.20" height="199.60" fill="#fff"/>
<rect x="375.20" y="297.20" width="1.60" height="19.80" fill="#777"/>
<rect x="375.20" y="397.60" width="1.60" height="19.60" fill="#777"/>
<text x="336.3" y="310.4" font-size="7.8" text-anchor="middle" fill="#111" textLength="51" lengthAdjust="spacingAndGlyphs">phase contrast</text>
<text x="417.9" y="310.4" font-size="7.8" text-anchor="middle" fill="#111" textLength="41.8" lengthAdjust="spacingAndGlyphs">YFP+ HSCs</text>
<text x="336.3" y="404.6" font-size="7.8" text-anchor="middle" fill="#111" textLength="44" lengthAdjust="spacingAndGlyphs">tdTOMATO+</text>
<text x="336.3" y="414.5" font-size="7.8" text-anchor="middle" fill="#111" textLength="27.5" lengthAdjust="spacingAndGlyphs">AFT024</text>
<text x="417.9" y="404.6" font-size="7.8" text-anchor="middle" fill="#111" textLength="34" lengthAdjust="spacingAndGlyphs">mseCFP+</text>
<text x="417.9" y="414.5" font-size="7.8" text-anchor="middle" fill="#111" textLength="17.5" lengthAdjust="spacingAndGlyphs">2018</text>
<g clip-path="url(#c1)">
<rect x="297.50" y="318.80" width="77.50" height="77.20" fill="#5e5e5e"/>
<g transform="rotate(42 336 357)"><rect x="270" y="290" width="140" height="140" filter="url(#fphase)" fill="#fff"/></g>
<g transform="rotate(-55 336 357)" opacity="0.4"><rect x="270" y="290" width="140" height="140" filter="url(#fphase2)" fill="#fff"/></g>
<circle cx="336.2" cy="354.3" r="2.9" fill="#888" stroke="#e4e4e4" stroke-width="0.9"/>
<ellipse cx="325.2" cy="382.2" rx="2.5" ry="2.6" fill="#444" stroke="#fff" stroke-width="1.6"/>
<ellipse cx="325.5" cy="388" rx="3.2" ry="2.9" fill="#444" stroke="#fff" stroke-width="1.6"/>
<circle cx="363" cy="329" r="1.7" fill="#333" stroke="#ddd" stroke-width="0.9"/>
<circle cx="305.5" cy="388.5" r="2" fill="#555" stroke="#bbb" stroke-width="0.8"/>
</g>
<rect x="377.50" y="318.80" width="77.00" height="76.90" fill="#030303"/>
<circle cx="416.2" cy="354.4" r="3.1" fill="none" stroke="#d8d8d8" stroke-width="0.8"/><circle cx="416.2" cy="354.4" r="0.8" fill="#ddd"/>
<g clip-path="url(#c3)">
<rect x="297.50" y="418.80" width="77.50" height="76.90" fill="#141414"/>
<g filter="url(#b1)">
<ellipse cx="352" cy="442" rx="22" ry="18" fill="#1f1f1f"/>
<ellipse cx="312" cy="431" rx="15" ry="10.5" fill="#fafafa"/>
<ellipse cx="324" cy="425" rx="7" ry="6" fill="#f0f0f0"/>
<ellipse cx="302" cy="423" rx="4" ry="3" fill="#555"/>
<ellipse cx="314.5" cy="456" rx="4.2" ry="16" fill="#f4f4f4"/>
<ellipse cx="327" cy="450" rx="9" ry="12" fill="#757575"/>
<ellipse cx="331" cy="463" rx="12" ry="4" fill="#f6f6f6"/>
<ellipse cx="321" cy="471" rx="5" ry="5" fill="#ddd"/>
<ellipse cx="308" cy="484" rx="11" ry="5" fill="#7a7a7a"/>
<ellipse cx="325" cy="482.5" rx="4.5" ry="4.5" fill="#e8e8e8"/>
<ellipse cx="367" cy="486" rx="9" ry="9" fill="#a8a8a8"/>
<ellipse cx="372" cy="438" rx="4" ry="3.5" fill="#b0b0b0"/>
<ellipse cx="371" cy="459" rx="5" ry="5" fill="#9a9a9a"/>
<ellipse cx="345" cy="473" rx="13" ry="3.5" fill="#505050"/>
<ellipse cx="362" cy="471" rx="8" ry="4.5" fill="#fff"/>
<polygon points="341,461 371,463 374,477 354,475" fill="#ededed"/>
</g>
<rect x="297.5" y="418.8" width="77.5" height="76.9" filter="url(#ftom2)" fill="#fff" opacity="0.9"/>
<rect x="297.5" y="418.8" width="77.5" height="76.9" filter="url(#ftom)" fill="#fff" opacity="0.8"/>
<circle cx="336.3" cy="454.4" r="2.9" fill="#111" stroke="#e0e0e0" stroke-width="0.8"/>
<circle cx="324.3" cy="483" r="3" fill="#bbb" stroke="#fff" stroke-width="0.9"/>
</g>
<g clip-path="url(#c4)">
<rect x="377.50" y="418.80" width="77.00" height="76.90" fill="#3a3a3a"/>
<g filter="url(#b2)">
<ellipse cx="386" cy="451" rx="4" ry="12" fill="#787878"/>
<ellipse cx="432" cy="468" rx="21" ry="17" fill="#5c5c5c"/>
<ellipse cx="445" cy="452" rx="7" ry="13" fill="#6e6e6e"/>
<ellipse cx="432" cy="481" rx="12" ry="5" fill="#858585"/>
<ellipse cx="404" cy="488" rx="4" ry="3" fill="#8a8a8a"/>
<ellipse cx="418" cy="462" rx="7" ry="4" fill="#808080"/>
<ellipse cx="400" cy="476" rx="12" ry="10" fill="#303030"/>
<ellipse cx="405" cy="430" rx="14" ry="8" fill="#303030"/>
<ellipse cx="444" cy="440" rx="6" ry="6" fill="#8c8c8c"/>
</g>
<rect x="377.5" y="418.8" width="77" height="76.9" filter="url(#fcfp2)" fill="#fff" opacity="0.75"/>
<rect x="377.5" y="418.8" width="77" height="76.9" filter="url(#fcfp)" fill="#fff" opacity="0.65"/>
<g filter="url(#b0)" fill="none" stroke-linecap="round">
<path d="M441,444 C448,450 452,458 454,468" stroke="#9a9a9a" stroke-width="1.6"/>
<path d="M436,446 C444,454 449,462 451,472" stroke="#7a7a7a" stroke-width="1.2"/>
<path d="M398,430 C408,440 416,448 426,452" stroke="#666" stroke-width="1.3"/>
<path d="M384,440 L390,462" stroke="#8a8a8a" stroke-width="2.2"/>
<path d="M412,462 C420,458 428,462 434,468" stroke="#8c8c8c" stroke-width="1.4"/>
<path d="M416,478 C426,474 436,478 444,484" stroke="#9a9a9a" stroke-width="1.5"/>
<path d="M420,486 L440,490" stroke="#777" stroke-width="1.2"/>
<ellipse cx="441" cy="430" rx="4" ry="4.6" fill="#f6f6f6" stroke="none"/>
<ellipse cx="450.5" cy="433" rx="2.6" ry="3" fill="#e6e6e6" stroke="none"/>
<ellipse cx="385.5" cy="488.5" rx="3.6" ry="3.4" fill="#fafafa" stroke="none"/>
<ellipse cx="382" cy="492.5" rx="2.4" ry="2" fill="#ddd" stroke="none"/>
<circle cx="405" cy="489" r="2.6" fill="#777" stroke="#999" stroke-width="0.8"/>
</g>
<circle cx="416.8" cy="454.2" r="2.9" fill="#555" stroke="#e4e4e4" stroke-width="0.8"/>
</g>
<text x="19.1" y="528.8" font-size="11" font-weight="bold" fill="#000">E</text>
<line x1="63.5" y1="539" x2="63.5" y2="663.8" stroke="#111" stroke-width="1.1"/>
<line x1="60" y1="663.5" x2="183.3" y2="663.5" stroke="#111" stroke-width="1.1"/>
<line x1="63.5" y1="663.3" x2="63.5" y2="666.5999999999999" stroke="#111" stroke-width="1.1"/>
<line x1="123.5" y1="663.3" x2="123.5" y2="666.5999999999999" stroke="#111" stroke-width="1.1"/>
<line x1="183.5" y1="663.3" x2="183.5" y2="666.5999999999999" stroke="#111" stroke-width="1.1"/>
<line x1="60" y1="539.5" x2="63.3" y2="539.5" stroke="#111" stroke-width="1.1"/>
<text x="57.6" y="542.4" font-size="7.8" text-anchor="end" fill="#111">100</text>
<line x1="60" y1="570.5" x2="63.3" y2="570.5" stroke="#111" stroke-width="1.1"/>
<text x="57.6" y="573.4" font-size="7.8" text-anchor="end" fill="#111">75</text>
<line x1="60" y1="601.5" x2="63.3" y2="601.5" stroke="#111" stroke-width="1.1"/>
<text x="57.6" y="604.3" font-size="7.8" text-anchor="end" fill="#111">50</text>
<line x1="60" y1="632.5" x2="63.3" y2="632.5" stroke="#111" stroke-width="1.1"/>
<text x="57.6" y="635.3" font-size="7.8" text-anchor="end" fill="#111">25</text>
<line x1="60" y1="663.5" x2="63.3" y2="663.5" stroke="#111" stroke-width="1.1"/>
<text x="57.6" y="666.1999999999999" font-size="7.8" text-anchor="end" fill="#111">0</text>
<text transform="translate(37.5,599.8) rotate(-90)" font-size="9" text-anchor="middle" fill="#111" textLength="123.5" lengthAdjust="spacingAndGlyphs">Percentage of HSC cell life time</text>
<rect x="81.30" y="540.80" width="25.00" height="7.40" fill="#9a9a9a"/>
<rect x="81.80" y="548.20" width="24.00" height="22.00" fill="#fff" stroke="#111" stroke-width="1.1"/>
<rect x="81.30" y="570.00" width="25.00" height="93.30" fill="#050505"/>
<rect x="140.50" y="540.80" width="25.00" height="23.00" fill="#9a9a9a"/>
<rect x="141.00" y="563.80" width="24.00" height="75.50" fill="#fff" stroke="#111" stroke-width="1.1"/>
<rect x="140.50" y="638.80" width="25.00" height="24.50" fill="#050505"/>
<text x="93.8" y="673.7" font-size="8.3" text-anchor="middle" fill="#111" textLength="50" lengthAdjust="spacingAndGlyphs">Dividing Cells</text>
<text x="153.4" y="673.7" font-size="8.3" text-anchor="middle" fill="#111" textLength="39.3" lengthAdjust="spacingAndGlyphs">Dying cells</text>
<rect x="173.00" y="543.00" width="6.60" height="6.60" fill="#9a9a9a"/>
<rect x="173.50" y="555.20" width="5.80" height="5.80" fill="#fff" stroke="#111" stroke-width="1"/>
<rect x="173.00" y="566.80" width="6.60" height="6.60" fill="#050505"/>
<text x="182.5" y="548.8" font-size="8.2" fill="#111" textLength="67" lengthAdjust="spacingAndGlyphs">Adherence to both</text>
<text x="182.5" y="560.6" font-size="8.2" fill="#111" textLength="69.5" lengthAdjust="spacingAndGlyphs">Adherence to 2018</text>
<text x="182.5" y="572.5" font-size="8.2" fill="#111" textLength="81.5" lengthAdjust="spacingAndGlyphs">Adherence to AFT024</text>
<text x="279.5" y="528.8" font-size="11" font-weight="bold" fill="#000">F</text>
<line x1="320.5" y1="552" x2="320.5" y2="659.8" stroke="#111" stroke-width="1.1"/>
<line x1="320" y1="659.5" x2="429.8" y2="659.5" stroke="#111" stroke-width="1.1"/>
<line x1="338.5" y1="659.3" x2="338.5" y2="661.9" stroke="#111" stroke-width="1.1"/>
<line x1="375.5" y1="659.3" x2="375.5" y2="661.9" stroke="#111" stroke-width="1.1"/>
<line x1="412.5" y1="659.3" x2="412.5" y2="661.9" stroke="#111" stroke-width="1.1"/>
<text x="317.6" y="565.9" font-size="8.2" text-anchor="end" fill="#111">300</text>
<text x="317.6" y="597.1999999999999" font-size="8.2" text-anchor="end" fill="#111">200</text>
<text x="317.6" y="628.4" font-size="8.2" text-anchor="end" fill="#111">100</text>
<text x="317.6" y="659.5" font-size="8.2" text-anchor="end" fill="#111">0</text>
<text transform="translate(297.4,605.8) rotate(-90)" font-size="9.3" text-anchor="middle" fill="#111" textLength="67.3" lengthAdjust="spacingAndGlyphs">Time to death (h)</text>
<line x1="338" y1="537.5" x2="412" y2="537.5" stroke="#111" stroke-width="1.1"/>
<line x1="375.5" y1="546.5" x2="412" y2="546.5" stroke="#111" stroke-width="1.1"/>
<text x="374.5" y="537.3" font-size="8.4" text-anchor="middle" font-weight="bold" fill="#111">**</text>
<text x="393.8" y="546.8" font-size="8.4" text-anchor="middle" font-weight="bold" fill="#111">***</text>
<path d="M338.60,565.00 L338.60,595.00 L338.00,596.00 L338.60,597.00 L338.60,603.00 L338.00,604.00 L338.60,605.00 L338.60,609.00 L337.90,610.00 L338.60,611.00 L338.60,615.00 L337.90,616.00 L338.60,617.00 L338.60,623.00 L337.80,624.20 L338.50,625.50 L338.50,630.00 L337.60,632.00 L336.20,634.00 L335.80,635.50 L336.40,637.00 L337.80,639.00 L337.90,640.50 L336.20,642.00 L333.80,643.50 L333.20,644.80 L334.00,646.00 L336.20,648.00 L337.00,650.00 L336.00,652.00 L333.30,653.50 L329.30,655.00 L328.20,656.00 L329.30,657.00 L333.80,658.00 L338.30,658.90 L339.30,658.90 L343.80,658.00 L348.30,657.00 L349.40,656.00 L348.30,655.00 L344.30,653.50 L341.60,652.00 L340.60,650.00 L341.40,648.00 L343.60,646.00 L344.40,644.80 L343.80,643.50 L341.40,642.00 L339.70,640.50 L339.80,639.00 L341.20,637.00 L341.80,635.50 L341.40,634.00 L340.00,632.00 L339.10,630.00 L339.10,625.50 L339.80,624.20 L339.00,623.00 L339.00,617.00 L339.70,616.00 L339.00,615.00 L339.00,611.00 L339.70,610.00 L339.00,609.00 L339.00,605.00 L339.60,604.00 L339.00,603.00 L339.00,597.00 L339.60,596.00 L339.00,595.00 L339.00,565.00Z" fill="#0a0a0a" stroke="#0a0a0a" stroke-width="0.55" stroke-linejoin="round"/>
<path d="M375.00,598.80 L375.00,617.00 L374.30,618.50 L373.60,620.80 L374.30,623.00 L374.30,624.00 L373.60,626.00 L374.30,628.30 L374.30,629.20 L373.60,631.20 L374.30,633.30 L374.30,634.20 L373.50,636.20 L374.10,638.30 L372.60,640.00 L371.80,641.50 L371.60,644.00 L371.00,646.50 L370.20,648.50 L369.60,650.00 L368.20,652.00 L365.60,654.00 L364.20,655.50 L364.60,656.80 L369.20,658.00 L374.70,658.90 L375.70,658.90 L381.20,658.00 L385.80,656.80 L386.20,655.50 L384.80,654.00 L382.20,652.00 L380.80,650.00 L380.20,648.50 L379.40,646.50 L378.80,644.00 L378.60,641.50 L377.80,640.00 L376.30,638.30 L376.90,636.20 L376.10,634.20 L376.10,633.30 L376.80,631.20 L376.10,629.20 L376.10,628.30 L376.80,626.00 L376.10,624.00 L376.10,623.00 L376.80,620.80 L376.10,618.50 L375.40,617.00 L375.40,598.80Z" fill="#b5b5b5" stroke="#111" stroke-width="0.75" stroke-linejoin="round"/>
<path d="M411.80,553.00 L411.80,570.00 L411.20,571.50 L410.90,573.80 L411.30,576.00 L411.20,578.50 L410.80,581.00 L411.40,584.00 L411.60,592.00 L410.80,594.50 L409.80,597.50 L410.80,600.50 L411.20,603.50 L410.60,606.00 L410.20,609.00 L410.50,612.00 L409.60,616.00 L408.90,620.00 L409.60,623.00 L410.00,625.50 L408.40,627.50 L406.00,630.00 L404.40,632.50 L405.20,635.00 L407.20,637.50 L404.50,639.50 L402.00,641.50 L401.40,644.00 L402.60,646.00 L401.60,648.00 L402.80,650.00 L401.60,652.00 L402.60,654.00 L402.00,655.50 L405.00,657.00 L409.00,658.30 L411.50,659.00 L412.50,659.00 L415.00,658.30 L419.00,657.00 L422.00,655.50 L421.40,654.00 L422.40,652.00 L421.20,650.00 L422.40,648.00 L421.40,646.00 L422.60,644.00 L422.00,641.50 L419.50,639.50 L416.80,637.50 L418.80,635.00 L419.60,632.50 L418.00,630.00 L415.60,627.50 L414.00,625.50 L414.40,623.00 L415.10,620.00 L414.40,616.00 L413.50,612.00 L413.80,609.00 L413.40,606.00 L412.80,603.50 L413.20,600.50 L414.20,597.50 L413.20,594.50 L412.40,592.00 L412.60,584.00 L413.20,581.00 L412.80,578.50 L412.70,576.00 L413.10,573.80 L412.80,571.50 L412.20,570.00 L412.20,553.00Z" fill="#fff" stroke="#111" stroke-width="0.75" stroke-linejoin="round"/>
<line x1="407.4" y1="637.5" x2="416.6" y2="637.5" stroke="#777" stroke-width="0.6"/>
<text transform="translate(343.4,667) rotate(-45)" font-size="8.3" text-anchor="end" fill="#111" textLength="29.5" lengthAdjust="spacingAndGlyphs">AFT024</text>
<text transform="translate(380.5,667.2) rotate(-45)" font-size="8.3" text-anchor="end" fill="#111" textLength="19" lengthAdjust="spacingAndGlyphs">2012</text>
<text transform="translate(417.3,667.2) rotate(-45)" font-size="8.3" text-anchor="end" fill="#111" textLength="19" lengthAdjust="spacingAndGlyphs">2018</text>
</svg>
<div class="frame"></div>
</body></html>
